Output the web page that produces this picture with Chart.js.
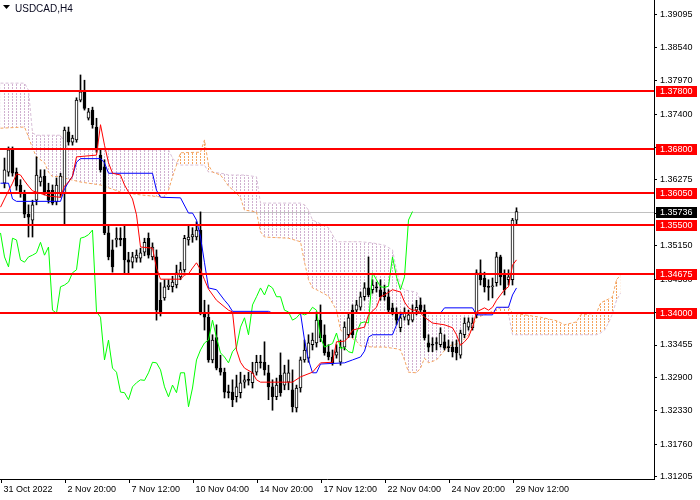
<!DOCTYPE html>
<html>
<head>
<meta charset="utf-8">
<script src="https://cdn.jsdelivr.net/npm/chart.js@4.4.1/dist/chart.umd.min.js"></script>
<style>
html, body { margin: 0; padding: 0; background: #fff; }
canvas { display: block; }
</style>
</head>
<body>
<canvas id="chart" width="700" height="500"></canvas>
<script>
var symbol = 'USDCAD,H4';

// H4 candles, bar 0 = 31 Oct 2022
var opens = [1.3622,1.3641,1.3679,1.3641,1.3619,1.3605,1.3569,1.3559,1.3593,1.3624,
  1.3634,1.3610,1.3610,1.3590,1.3605,1.3605,1.3710,1.3692,1.3696,1.3764,
  1.3778,1.3733,1.3747,1.3718,1.3670,1.3650,1.3537,1.3508,1.3525,1.3528,
  1.3528,1.3491,1.3487,1.3494,1.3494,1.3504,1.3528,1.3496,1.3496,1.3422,
  1.3426,1.3445,1.3445,1.3448,1.3462,1.3474,1.3525,1.3530,1.3530,1.3542,
  1.3400,1.3393,1.3320,1.3358,1.3306,1.3299,1.3265,1.3265,1.3257,1.3264,
  1.3282,1.3286,1.3281,1.3299,1.3316,1.3316,1.3298,1.3274,1.3257,1.3294,
  1.3277,1.3282,1.3269,1.3238,1.3272,1.3320,1.3323,1.3346,1.3349,1.3388,
  1.3363,1.3334,1.3325,1.3328,1.3316,1.3342,1.3363,1.3405,1.3405,1.3410,
  1.3428,1.3443,1.3440,1.3445,1.3440,1.3436,1.3428,1.3409,1.3400,1.3375,
  1.3393,1.3388,1.3388,1.3405,1.3414,1.3405,1.3349,1.3346,1.3349,1.3346,
  1.3351,1.3342,1.3342,1.3342,1.3328,1.3363,1.3376,1.3375,1.3397,1.3469,
  1.3460,1.3445,1.3445,1.3452,1.3496,1.3465,1.3457,1.3457,1.3559];
var highs = [1.3665,1.3684,1.3684,1.3648,1.3628,1.3610,1.3585,1.3593,1.3667,1.3645,
  1.3645,1.3622,1.3619,1.3631,1.3639,1.3718,1.3718,1.3704,1.3768,1.3807,
  1.3798,1.3750,1.3752,1.3733,1.3679,1.3662,1.3551,1.3525,1.3546,1.3546,
  1.3551,1.3504,1.3504,1.3508,1.3511,1.3528,1.3537,1.3520,1.3508,1.3452,
  1.3457,1.3457,1.3463,1.3482,1.3487,1.3533,1.3551,1.3546,1.3556,1.3573,
  1.3422,1.3414,1.3363,1.3380,1.3328,1.3306,1.3277,1.3286,1.3294,1.3299,
  1.3294,1.3299,1.3316,1.3328,1.3328,1.3351,1.3311,1.3286,1.3289,1.3332,
  1.3311,1.3320,1.3303,1.3277,1.3325,1.3354,1.3363,1.3366,1.3402,1.3414,
  1.3380,1.3346,1.3337,1.3346,1.3354,1.3385,1.3400,1.3414,1.3422,1.3436,
  1.3452,1.3496,1.3457,1.3453,1.3457,1.3448,1.3440,1.3417,1.3409,1.3402,
  1.3409,1.3405,1.3414,1.3422,1.3426,1.3414,1.3363,1.3358,1.3358,1.3375,
  1.3363,1.3354,1.3351,1.3354,1.3371,1.3392,1.3392,1.3392,1.3474,1.3491,
  1.3470,1.3457,1.3460,1.3504,1.3499,1.3474,1.3474,1.3562,1.3580];
var lows = [1.3614,1.3634,1.3634,1.3610,1.3598,1.3563,1.3530,1.3530,1.3585,1.3617,
  1.3602,1.3588,1.3585,1.3585,1.3598,1.3551,1.3687,1.3687,1.3692,1.3761,
  1.3747,1.3730,1.3716,1.3675,1.3641,1.3534,1.3491,1.3470,1.3513,1.3515,
  1.3469,1.3469,1.3477,1.3487,1.3487,1.3498,1.3494,1.3491,1.3388,1.3395,
  1.3422,1.3440,1.3436,1.3443,1.3457,1.3470,1.3516,1.3521,1.3525,1.3397,
  1.3371,1.3316,1.3315,1.3303,1.3294,1.3255,1.3255,1.3240,1.3248,1.3255,
  1.3272,1.3277,1.3272,1.3294,1.3306,1.3294,1.3252,1.3234,1.3252,1.3258,
  1.3269,1.3269,1.3231,1.3231,1.3265,1.3316,1.3316,1.3337,1.3342,1.3351,
  1.3328,1.3320,1.3311,1.3323,1.3311,1.3337,1.3358,1.3358,1.3400,1.3405,
  1.3422,1.3428,1.3434,1.3436,1.3422,1.3422,1.3400,1.3397,1.3380,1.3368,
  1.3388,1.3380,1.3385,1.3397,1.3402,1.3354,1.3334,1.3334,1.3337,1.3342,
  1.3337,1.3334,1.3325,1.3320,1.3323,1.3358,1.3371,1.3371,1.3392,1.3448,
  1.3436,1.3422,1.3426,1.3446,1.3448,1.3431,1.3448,1.3448,1.3551];
var closes = [1.3645,1.3679,1.3639,1.3617,1.3605,1.3569,1.3564,1.3585,1.3636,1.3633,
  1.3607,1.3593,1.3588,1.3619,1.3634,1.3713,1.3692,1.3699,1.3764,1.3778,
  1.3750,1.3744,1.3722,1.3679,1.3645,1.3537,1.3496,1.3479,1.3528,1.3525,
  1.3491,1.3487,1.3496,1.3499,1.3503,1.3521,1.3499,1.3513,1.3405,1.3400,
  1.3445,1.3448,1.3453,1.3469,1.3474,1.3528,1.3530,1.3534,1.3542,1.3402,
  1.3393,1.3320,1.3354,1.3306,1.3299,1.3265,1.3264,1.3252,1.3274,1.3281,
  1.3286,1.3285,1.3298,1.3316,1.3315,1.3303,1.3274,1.3257,1.3277,1.3264,
  1.3298,1.3298,1.3240,1.3272,1.3320,1.3337,1.3349,1.3354,1.3388,1.3358,
  1.3332,1.3325,1.3315,1.3334,1.3342,1.3376,1.3392,1.3363,1.3414,1.3428,
  1.3443,1.3431,1.3448,1.3443,1.3428,1.3428,1.3405,1.3402,1.3388,1.3392,
  1.3400,1.3397,1.3400,1.3410,1.3405,1.3358,1.3342,1.3345,1.3348,1.3366,
  1.3340,1.3341,1.3334,1.3332,1.3366,1.3383,1.3385,1.3383,1.3469,1.3457,
  1.3445,1.3444,1.3446,1.3496,1.3462,1.3440,1.3462,1.3559,1.35736];

// Ichimoku lines, read where they bend
var tenkanBars = [-1,0,1,2,3,4,5,6,7,11,14,15,16,17,18,23,24,25,26,27,29,30,31,32,33,34,37,38,39,
  44,45,46,47,48,49,50,51,53,56,57,58,59,60,62,63,64,72,74,77,79,82,83,85,86,87,90,91,93,94,95,
  97,99,100,101,102,103,104,105,107,110,112,113,114,115,116,117,118,120,121,122,123,124,125,126,127,128];
var tenkan = [1.3581,1.3595,1.3609,1.3622,1.3638,1.3636,1.3626,1.3617,1.3609,1.3600,1.3598,1.3617,1.3624,1.3634,1.3667,
  1.3670,1.3722,1.3687,1.3657,1.3639,1.3636,1.3619,1.3607,1.3595,1.3568,1.3513,1.3511,1.3477,1.3458,
  1.3458,1.3465,1.3467,1.3477,1.3486,1.3474,1.3457,1.3441,1.3422,1.3405,1.3402,1.3337,1.3316,1.3306,
  1.3298,1.3286,1.3282,1.3282,1.3291,1.3299,1.3315,1.3316,1.3351,1.3352,1.3359,1.3371,1.3376,1.3397,
  1.3410,1.3428,1.3431,1.3440,1.3436,1.3419,1.3409,1.3405,1.3405,1.3400,1.3393,1.3383,1.3380,1.3375,
  1.3363,1.3345,1.3351,1.3359,1.3376,1.3402,1.3409,1.3405,1.3410,1.3422,1.3431,1.3440,1.3445,1.3482,1.3491];

var kijunBars = [-1,1,2,3,14,15,16,17,18,19,24,25,26,37,38,39,44,46,47,48,49,50,51,53,55,56,57,66,67,
  74,75,76,77,78,79,85,87,89,90,91,92,97,98,99,100,109,110,117,118,122,123,126,127,128];
var kijun = [1.3622,1.3622,1.3595,1.3591,1.3591,1.3612,1.3624,1.3634,1.3658,1.3664,1.3664,1.3657,1.3639,
  1.3639,1.3610,1.3598,1.3597,1.3571,1.3571,1.3559,1.3530,1.3486,1.3443,1.3440,1.3422,1.3414,1.3403,
  1.3403,1.3400,1.3400,1.3354,1.3320,1.3298,1.3298,1.3313,1.3315,1.3320,1.3325,1.3335,1.3359,1.3363,
  1.3363,1.3380,1.3397,1.3400,1.3400,1.3409,1.3409,1.3397,1.3397,1.3410,1.3410,1.3431,1.3443];

var cloudBars = [-1,5,6,7,8,10,11,12,14,15,16,19,24,29,34,40,41,42,43,44,49,50,51,52,54,55,56,58,59,60,
  63,64,65,71,74,75,76,77,78,81,83,84,86,88,89,92,95,97,98,99,100,101,103,104,105,106,108,
  111,114,116,117,118,121,124,126,127,130,134,138,140,143,144,148,149,150,151,152,153,154];
var spanA = [1.3716,1.3718,1.3701,1.3682,1.3667,1.3657,1.3641,1.3633,1.3634,1.3631,1.3629,1.3624,1.3619,
  1.3607,1.3602,1.3598,1.3610,1.3633,1.3653,1.3674,1.3675,1.3696,1.3653,1.3641,1.3636,1.3627,1.3617,
  1.3605,1.3597,1.3576,1.3573,1.3539,1.3530,1.3528,1.3522,1.3487,1.3457,1.3443,1.3440,1.3429,1.3405,
  1.3371,1.3361,1.3352,1.3344,1.3342,1.3342,1.3340,1.3339,1.3337,1.3320,1.3299,1.3298,1.3306,1.3323,
  1.3315,1.3320,1.3344,1.3349,1.3363,1.3376,1.3392,1.3400,1.3409,1.3410,1.3400,1.3397,1.3393,1.3387,
  1.3380,1.3385,1.3397,1.3400,1.3417,1.3421,1.3424,1.3428,1.3457,1.3465];
var spanB = [1.3793,1.3793,1.3781,1.3708,1.3704,1.3704,1.3704,1.3704,1.3704,1.3692,1.3679,1.3679,1.3679,
  1.3679,1.3679,1.3679,1.3679,1.3665,1.3657,1.3653,1.3653,1.3653,1.3641,1.3641,1.3639,1.3638,1.3636,
  1.3636,1.3636,1.3636,1.3633,1.3588,1.3588,1.3588,1.3588,1.3585,1.3576,1.3559,1.3556,1.3546,1.3522,
  1.3522,1.3522,1.3522,1.3522,1.3520,1.3516,1.3508,1.3474,1.3445,1.3440,1.3438,1.3436,1.3422,1.3402,
  1.3402,1.3400,1.3400,1.3400,1.3400,1.3400,1.3400,1.3400,1.3400,1.3399,1.3363,1.3363,1.3363,1.3363,
  1.3363,1.3363,1.3363,1.3363,1.3366,1.3371,1.3383,1.3399,1.3422,1.3434];
var chikouShift = 26;

var levels = [1.37800, 1.36800, 1.36050, 1.35500, 1.34675, 1.34000];
var bid = 1.35736;
var priceTicks = [1.39095,1.38540,1.37970,1.37400,1.36830,1.36275,1.35705,1.35150,1.34580,1.34010,
  1.33455,1.32900,1.32330,1.31760,1.31205];
var dateLabels = ['31 Oct 2022','2 Nov 20:00','7 Nov 12:00','10 Nov 04:00','14 Nov 20:00',
  '17 Nov 12:00','22 Nov 04:00','24 Nov 20:00','29 Nov 12:00'];
var dateBars = [0,16,32,48,64,80,96,112,128];

Chart.defaults.font.family = 'Liberation Sans';
Chart.defaults.font.size = 9;
Chart.defaults.color = '#000';

var canvas = document.getElementById('chart');
var ctx = canvas.getContext('2d');

// dotted vertical hatching like the terminal's cloud
function hatch(color) {
  var c = document.createElement('canvas');
  c.width = 4; c.height = 3;
  var g = c.getContext('2d');
  g.fillStyle = color;
  g.fillRect(0, 0, 1, 2);
  return ctx.createPattern(c, 'repeat');
}

function pts(xs, ys) {
  return xs.map(function (x, i) { return {x: x, y: ys[i]}; });
}

var chikou = [];
for (var i = chikouShift - 1; i < closes.length; i++) {
  chikou.push({x: i - chikouShift, y: closes[i]});
}

var bodies = opens.map(function (o, i) { return {x: i, y: [o, closes[i]]}; });
var wicks = highs.map(function (h, i) { return {x: i, y: [lows[i], h]}; });
var bodyColors = opens.map(function (o, i) { return closes[i] >= o ? '#ffffff' : '#000000'; });

var overlay = {
  id: 'overlay',
  beforeDatasetsDraw: function (chart) {
    var c = chart.ctx, a = chart.chartArea, y = chart.scales.y;
    var p = Math.round(y.getPixelForValue(bid)) + 0.5;
    c.save();
    c.strokeStyle = '#c0c0c0';
    c.lineWidth = 1;
    c.beginPath(); c.moveTo(a.left, p); c.lineTo(a.right, p); c.stroke();
    c.restore();
  },
  afterDatasetsDraw: function (chart) {
    var c = chart.ctx, a = chart.chartArea, y = chart.scales.y;
    c.save();
    c.strokeStyle = '#ff0000';
    c.lineWidth = 2;
    levels.forEach(function (v) {
      var p = Math.round(y.getPixelForValue(v));
      c.beginPath(); c.moveTo(a.left, p); c.lineTo(a.right, p); c.stroke();
    });
    c.restore();
  },
  afterDraw: function (chart) {
    var c = chart.ctx, a = chart.chartArea, y = chart.scales.y;
    c.save();
    c.font = '9px "Liberation Sans"';
    c.textBaseline = 'middle';
    function tag(v, bg) {
      var p = Math.round(y.getPixelForValue(v));
      c.fillStyle = bg;
      c.fillRect(a.right + 2, p - 5, 41, 11);
      c.fillStyle = '#ffffff';
      c.fillText(v.toFixed(5), a.right + 6, p + 0.5);
    }
    levels.forEach(function (v) { tag(v, '#ff0000'); });
    tag(bid, '#000000');

    // symbol caption
    c.fillStyle = '#000';
    c.beginPath(); c.moveTo(3, 5); c.lineTo(10, 5); c.lineTo(6.5, 9); c.closePath(); c.fill();
    c.font = '10px "Liberation Sans"';
    c.textBaseline = 'alphabetic';
    c.fillStyle = '#0a0a20';
    c.fillText(symbol, 15, 12);
    c.restore();
  }
};

new Chart(ctx, {
  type: 'bar',
  data: {
    datasets: [
      {
        type: 'line', data: pts(cloudBars, spanA),
        borderColor: '#f4a460', borderWidth: 1, borderDash: [3, 2], pointRadius: 0,
        fill: {target: 1, above: hatch('#f4a460'), below: hatch('#d0b0d0')}, order: 3
      },
      {
        type: 'line', data: pts(cloudBars, spanB),
        borderColor: '#d8bfd8', borderWidth: 1, borderDash: [3, 2], pointRadius: 0,
        fill: false, order: 3
      },
      { type: 'line', data: pts(tenkanBars, tenkan), borderColor: '#ff0000', borderWidth: 1, pointRadius: 0, fill: false, order: 0 },
      { type: 'line', data: pts(kijunBars, kijun), borderColor: '#0000ff', borderWidth: 1, pointRadius: 0, fill: false, order: 0 },
      { type: 'line', data: chikou, borderColor: '#00ff00', borderWidth: 1, pointRadius: 0, fill: false, order: 0 },
      {
        data: bodies, backgroundColor: bodyColors, borderColor: '#000', borderWidth: 1,
        borderSkipped: false, barThickness: 3, minBarLength: 1, grouped: false, order: 1
      },
      {
        data: wicks, backgroundColor: '#000', borderWidth: 0,
        barThickness: 1, grouped: false, order: 2
      }
    ]
  },
  options: {
    responsive: false,
    animation: false,
    devicePixelRatio: 1,
    events: [],
    layout: {padding: 0},
    plugins: {
      legend: {display: false},
      tooltip: {enabled: false},
      filler: {drawTime: 'beforeDatasetsDraw'}
    },
    scales: {
      x: {
        type: 'linear', min: -1.125, max: 162.375, offset: false,
        afterBuildTicks: function (s) { s.ticks = dateBars.map(function (b) { return {value: b - 0.75}; }); },
        afterFit: function (s) { s.height = 21; s.paddingLeft = 0; s.paddingRight = 0; },
        grid: {drawOnChartArea: false, tickLength: 4, color: '#000', offset: false},
        border: {color: '#000'},
        ticks: {
          autoSkip: false, maxRotation: 0, align: 'start', padding: 1, labelOffset: 2,
          callback: function (v, i) { return dateLabels[i]; }
        }
      },
      y: {
        position: 'right', min: 1.31165, max: 1.39351,
        afterBuildTicks: function (s) { s.ticks = priceTicks.map(function (v) { return {value: v}; }); },
        afterFit: function (s) { s.width = 46; s.paddingTop = 0; s.paddingBottom = 0; },
        grid: {drawOnChartArea: false, tickLength: 3, color: '#000'},
        border: {color: '#000'},
        ticks: {autoSkip: false, padding: 3, callback: function (v) { return v.toFixed(5); }}
      }
    }
  },
  plugins: [overlay]
});
</script>
</body>
</html>
